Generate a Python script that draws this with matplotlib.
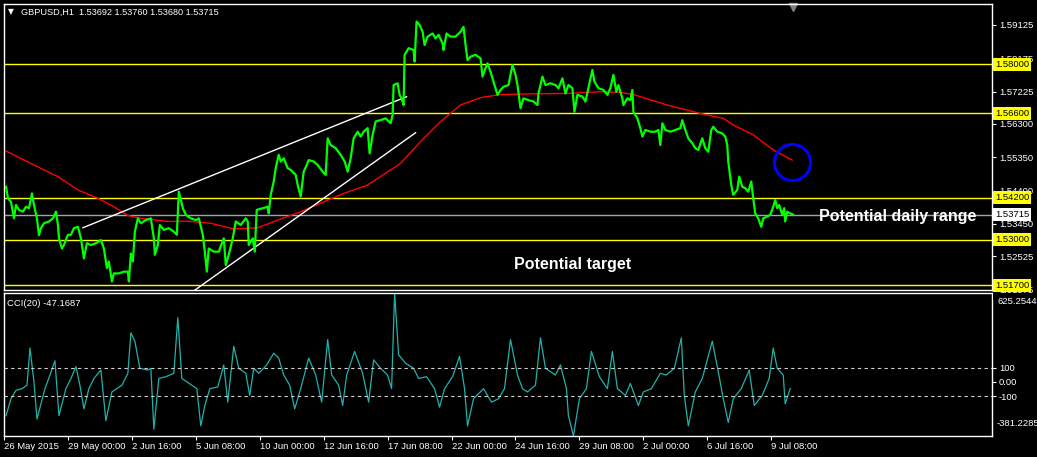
import matplotlib.pyplot as plt
import matplotlib.transforms as mtransforms
from matplotlib.patches import Rectangle

plt.rcParams['font.family'] = ['Liberation Sans', 'DejaVu Sans']

# ---- 数据 (bar index = hourly bars from 26 May 2015 00:00) ----
close_bars = [2, 4, 7, 10, 12, 15, 19, 22, 25, 28, 30, 33, 35, 37, 40, 45, 49, 52, 54, 55,
              58, 60, 64, 67, 70, 74, 77, 80, 83, 87, 92, 97, 100, 103, 105, 108, 110, 115,
              120, 124, 125, 127, 129, 131, 134, 137, 142, 147, 150, 151, 154, 156, 160, 165,
              170, 173, 175, 179, 182, 187, 192, 195, 199, 201, 203, 205, 210, 215, 220, 222,
              225, 229, 232, 237, 242, 244, 245, 249, 251, 253, 259, 264, 265, 267, 270, 272,
              275, 277, 280, 284, 287, 292, 294, 297, 300, 303, 305, 310, 314, 319, 322, 324,
              327, 332, 337, 341, 344, 347, 350, 354, 357, 360, 364, 366, 369, 372, 377, 382,
              387, 389, 390, 394, 396, 398, 400, 401, 405, 410, 411, 413, 416, 419, 421, 424,
              429, 432, 435, 439, 440, 443, 447, 452, 457, 460, 462, 464, 467, 472, 477, 479,
              482, 484, 487, 490, 494, 497, 500, 505, 509, 512, 514, 517, 520, 525, 530, 534,
              535, 539, 542, 547, 552, 555, 559, 562, 565, 569, 571, 574, 579, 582, 585, 589,
              591, 595, 600, 604, 607, 610, 613, 615, 619, 620, 624, 627, 629, 630, 634, 637,
              639, 642, 647, 652, 655, 657, 659, 662, 667, 672, 677, 679, 682, 685, 689, 692,
              695, 699, 702, 705, 708, 710, 714, 719, 722, 724, 725, 728, 730, 734, 736, 739,
              742, 745, 748, 750, 752, 755, 758, 760, 764, 767, 770, 772, 774, 776, 779, 781,
              782, 784, 787, 790]
close_px = [1.5451, 1.5418, 1.5408, 1.5361, 1.5399, 1.5385, 1.5380, 1.5394, 1.5390, 1.5432,
            1.5399, 1.5361, 1.5313, 1.5333, 1.5347, 1.5352, 1.5361, 1.5380, 1.5342, 1.5304,
            1.5275, 1.5285, 1.5314, 1.5314, 1.5333, 1.5337, 1.5304, 1.5247, 1.5290, 1.5285,
            1.5290, 1.5299, 1.5275, 1.5219, 1.5238, 1.5181, 1.5204, 1.5204, 1.5209, 1.5209,
            1.5181, 1.5261, 1.5238, 1.5323, 1.5361, 1.5347, 1.5356, 1.5361, 1.5304, 1.5257,
            1.5285, 1.5342, 1.5328, 1.5333, 1.5323, 1.5314, 1.5437, 1.5390, 1.5371, 1.5361,
            1.5356, 1.5361, 1.5314, 1.5266, 1.5209, 1.5275, 1.5266, 1.5266, 1.5304, 1.5228,
            1.5257, 1.5304, 1.5352, 1.5342, 1.5361, 1.5352, 1.5285, 1.5304, 1.5266, 1.5385,
            1.5390, 1.5394, 1.5375, 1.5428, 1.5466, 1.5504, 1.5542, 1.5523, 1.5532, 1.5504,
            1.5499, 1.5485, 1.5456, 1.5423, 1.5494, 1.5513, 1.5527, 1.5523, 1.5513, 1.5494,
            1.5485, 1.5589, 1.5570, 1.5561, 1.5542, 1.5523, 1.5494, 1.5532, 1.5589, 1.5608,
            1.5594, 1.5608, 1.5618, 1.5546, 1.5599, 1.5637, 1.5641, 1.5646, 1.5632, 1.5656,
            1.5741, 1.5746, 1.5713, 1.5703, 1.5684, 1.5827, 1.5846, 1.5841, 1.5808, 1.5922,
            1.5912, 1.5893, 1.5855, 1.5879, 1.5888, 1.5874, 1.5884, 1.5860, 1.5841, 1.5888,
            1.5879, 1.5879, 1.5893, 1.5907, 1.5855, 1.5812, 1.5822, 1.5827, 1.5817, 1.5765,
            1.5789, 1.5803, 1.5779, 1.5751, 1.5713, 1.5727, 1.5736, 1.5741, 1.5798, 1.5770,
            1.5741, 1.5675, 1.5703, 1.5698, 1.5694, 1.5684, 1.5717, 1.5765, 1.5741, 1.5746,
            1.5741, 1.5732, 1.5760, 1.5717, 1.5741, 1.5732, 1.5665, 1.5713, 1.5708, 1.5694,
            1.5732, 1.5784, 1.5751, 1.5732, 1.5727, 1.5713, 1.5732, 1.5770, 1.5722, 1.5741,
            1.5703, 1.5684, 1.5703, 1.5698, 1.5727, 1.5665, 1.5646, 1.5618, 1.5594, 1.5613,
            1.5608, 1.5608, 1.5613, 1.5570, 1.5632, 1.5613, 1.5608, 1.5613, 1.5618, 1.5641,
            1.5613, 1.5589, 1.5575, 1.5561, 1.5556, 1.5589, 1.5561, 1.5551, 1.5613, 1.5622,
            1.5608, 1.5603, 1.5594, 1.5570, 1.5523, 1.5456, 1.5428, 1.5442, 1.5480, 1.5451,
            1.5447, 1.5437, 1.5466, 1.5418, 1.5375, 1.5361, 1.5337, 1.5361, 1.5366, 1.5371,
            1.5394, 1.5413, 1.5390, 1.5399, 1.5371, 1.5390, 1.5352, 1.5380, 1.5375, 1.53715]

ma_bars = [2, 30, 54, 74, 94, 110, 124, 137, 164, 184, 207, 214, 230, 254, 274, 297, 320,
           340, 364, 387, 397, 417, 437, 457, 477, 497, 530, 564, 597, 617, 630, 664, 697,
           720, 730, 750, 770, 789]
ma_px = [1.5553, 1.5513, 1.5480, 1.5442, 1.5418, 1.5394, 1.5369, 1.5361, 1.5352, 1.5353,
         1.5347, 1.5342, 1.5331, 1.5334, 1.5356, 1.5380, 1.5408, 1.5432, 1.5456, 1.5499,
         1.5518, 1.5580, 1.5637, 1.5684, 1.5705, 1.5714, 1.5716, 1.5717, 1.5722, 1.5720,
         1.5714, 1.5684, 1.5660, 1.5646, 1.5627, 1.5599, 1.5556, 1.5527]

cci_bars = [2, 7, 12, 18, 23, 26, 30, 33, 41, 46, 51, 55, 62, 67, 72, 76, 80, 85, 90, 97,
            102, 108, 118, 124, 127, 131, 136, 144, 147, 150, 155, 162, 170, 174, 178, 188,
            193, 197, 201, 206, 214, 220, 224, 230, 235, 242, 246, 250, 255, 263, 270, 275,
            280, 286, 291, 297, 305, 312, 318, 324, 328, 335, 339, 343, 351, 359, 365, 370,
            377, 384, 388, 391, 395, 402, 410, 415, 423, 431, 436, 441, 449, 456, 461, 464,
            470, 480, 488, 495, 501, 507, 514, 519, 524, 532, 537, 542, 552, 557, 563, 565,
            570, 576, 583, 588, 596, 604, 609, 614, 622, 627, 635, 640, 648, 657, 663, 671,
            678, 681, 685, 692, 699, 709, 715, 720, 725, 730, 738, 746, 751, 759, 766, 770,
            774, 780, 782, 787]
cci_vals = [-238, -119, -60, -48, -24, 238, 0, -262, -48, 48, 148, -238, -48, 24, 107, -24,
            -190, -48, 24, 83, -274, -71, -24, 60, 345, 286, 95, 83, 95, -333, 24, 36, 60,
            452, 24, -24, -48, -310, -167, -48, -36, 119, -143, 250, 95, 60, -95, 95, 60,
            119, 202, 167, 48, -24, -190, -48, 167, 48, -143, 298, 48, -24, -167, 48, 214,
            60, -143, 155, 95, 48, -48, 625, 190, 131, 95, 24, 36, -48, -179, -48, 36, 179,
            -48, -310, -119, -48, -143, -119, -48, 298, 48, -48, -71, -24, 310, 95, 48, 119,
            -48, -238, -381, -119, -48, 214, 36, -48, 214, -48, -95, -12, -167, -71, -48, 60,
            48, 95, 310, -95, -310, -71, 24, 286, 71, -119, -286, -119, -48, 83, -167, -95,
            24, 238, 95, 48, -155, -47.1687]

level_px = [1.5800, 1.5660, 1.5420, 1.5300, 1.5170]
last_px = 1.53715
price_ticks = [1.59125, 1.58175, 1.57225, 1.56300, 1.55350, 1.54400, 1.53450, 1.52525, 1.51575]
cci_ticks = [100, 0, -100]
cci_tick_labels = ['100', '0.00', '-100']
cci_max, cci_min = 625.2544, -381.2285
time_ticks = [0, 64, 128, 192, 256, 320, 384, 448, 512, 576, 640, 704, 768]
time_labels = ['26 May 2015', '29 May 00:00', '2 Jun 16:00', '5 Jun 08:00', '10 Jun 00:00',
               '12 Jun 16:00', '17 Jun 08:00', '22 Jun 00:00', '24 Jun 16:00', '29 Jun 08:00',
               '2 Jul 00:00', '6 Jul 16:00', '9 Jul 08:00']

# 趋势线 (bar, price)
upper_trend = ([79, 403], [1.53342, 1.57077])
lower_trend = ([187, 412], [1.51481, 1.56051])
circle_bar, circle_px = 789, 1.55224

# ---- 图表 ----
fig = plt.figure(figsize=(10.37, 4.57), dpi=100, facecolor='black')
W, H = 1037, 457
ax1 = fig.add_axes([4 / W, 1 - 290 / H, 988 / W, 286 / H], facecolor='black')
ax2 = fig.add_axes([4 / W, 1 - 436 / H, 988 / W, 143 / H], facecolor='black', sharex=ax1)

for ax in (ax1, ax2):
    for s in ax.spines.values():
        s.set_color('white')
        s.set_linewidth(1)
    ax.yaxis.tick_right()
    ax.tick_params(axis='y', colors='white', labelsize=6.8, length=3, pad=2, width=0.8)
    ax.tick_params(axis='x', colors='white', labelsize=6.8, length=3, pad=1, width=0.8)

ax1.set_xlim(1, 989)
ax1.set_ylim(1.51567, 1.59720)

for lv in level_px:
    ax1.axhline(lv, color='#FFFF00', lw=1, zorder=1)
ax1.axhline(last_px, color='#9aa4b4', lw=1, zorder=1)

ax1.plot(ma_bars, ma_px, color='#FF0000', lw=1, zorder=2)
ax1.plot(*upper_trend, color='white', lw=1, zorder=2)
ax1.plot(*lower_trend, color='white', lw=1, zorder=2)
ax1.plot(close_bars, close_px, color='#00FF00', lw=1.6, zorder=3)
ax1.plot(circle_bar, circle_px, marker='o', ms=26, mfc='none', mec='#0000FF', mew=2.2, zorder=4)

ax1.set_yticks(price_ticks)
ax1.set_yticklabels([f'{p:.5f}' for p in price_ticks])
ax1.tick_params(axis='x', bottom=False, labelbottom=False)

# 右侧价格标签
trans = mtransforms.blended_transform_factory(ax1.transAxes, ax1.transData)
for lv in level_px:
    ax1.text(1.003, lv, f'{lv:.5f}', transform=trans, fontsize=6.8, color='black',
             va='center', ha='left', clip_on=False, zorder=5,
             bbox=dict(boxstyle='square,pad=0.2', fc='#FFFF00', ec='none'))
ax1.text(1.003, last_px, f'{last_px:.5f}', transform=trans, fontsize=6.8, color='black',
         va='center', ha='left', clip_on=False, zorder=5,
         bbox=dict(boxstyle='square,pad=0.2', fc='white', ec='none'))

ax1.text(0.004, 0.972, '\u25bc', transform=ax1.transAxes, fontsize=5.5, color='white',
         va='center', ha='left', family=['DejaVu Sans'])
ax1.text(0.017, 0.972, 'GBPUSD,H1  1.53692 1.53760 1.53680 1.53715', transform=ax1.transAxes,
         fontsize=6.6, color='white', va='center', ha='left')
ax1.plot(790, 0.99, marker='v', ms=6, color='#808080', clip_on=False,
         transform=mtransforms.blended_transform_factory(ax1.transData, ax1.transAxes))

ax1.text(895, 1.5367, 'Potential daily range', fontsize=11.5, fontweight='bold', color='white',
         ha='center', va='center')
ax1.text(569, 1.5228, 'Potential target', fontsize=11.5, fontweight='bold', color='white',
         ha='center', va='center')

# CCI 子图
ax2.plot(cci_bars, cci_vals, color='#20B2AA', lw=0.9)
for lv in (100, -100):
    ax2.axhline(lv, color='#d0d0d0', lw=0.8, ls=(0, (3, 3)))
ax2.set_ylim(cci_min, cci_max)
ax2.set_yticks(cci_ticks)
ax2.set_yticklabels(cci_tick_labels)
ax2.set_xticks(time_ticks)
ax2.set_xticklabels(time_labels, ha='left')
ax2.text(0.003, 0.93, 'CCI(20) -47.1687', transform=ax2.transAxes, fontsize=6.8,
         color='white', va='center', ha='left')

# 指标窗口上下极值标签 (MT4 把它们放在窗口内侧)
fig.patches.append(Rectangle((993 / W, 1 - 300 / H), 44 / W, 7 / H, transform=fig.transFigure,
                             fc='black', ec='none', zorder=1))
fig.text(997 / W, 1 - 302 / H, f'{cci_max:.4f}', fontsize=6.8, color='white',
         va='center', ha='left', zorder=3)
fig.text(997 / W, 1 - 423 / H, f'{cci_min:.4f}', fontsize=6.8, color='white',
         va='center', ha='left', zorder=3)

plt.savefig('out.png', dpi=100, facecolor='black')
